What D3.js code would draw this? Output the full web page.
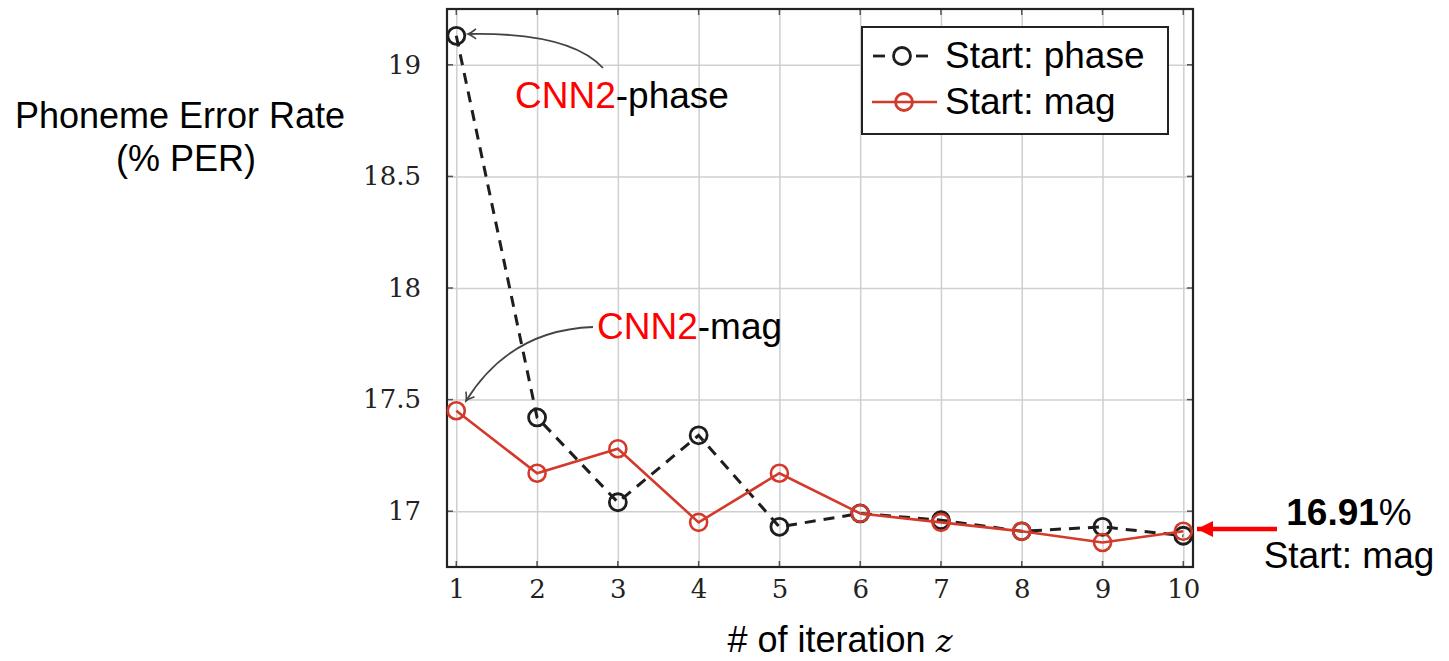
<!DOCTYPE html>
<html>
<head>
<meta charset="utf-8">
<script src="https://cdn.jsdelivr.net/npm/d3@7"></script>
<style>
  body { margin: 0; background: #fff; }
  .tick text { font-family: "DejaVu Serif", serif; }
</style>
</head>
<body>
<script>
var iterations = [1, 2, 3, 4, 5, 6, 7, 8, 9, 10];
var startPhase = [19.13, 17.42, 17.04, 17.34, 16.93, 16.99, 16.96, 16.91, 16.93, 16.89];
var startMag = [17.45, 17.17, 17.28, 16.95, 17.17, 16.99, 16.95, 16.91, 16.86, 16.91];
var yTicks = [17, 17.5, 18, 18.5, 19];
var yTickLabels = ["17", "17.5", "18", "18.5", "19"];

var W = 1449, H = 661;
var pLeft = 447, pRight = 1193, pTop = 9, pBottom = 567;
var sans = "Liberation Sans, Arial, sans-serif";
var fs = 37;

var svg = d3.select("body").append("svg")
  .attr("width", W).attr("height", H);

var x = d3.scaleLinear().domain([0.885, 10.12]).range([pLeft, pRight]);
var y = d3.scaleLinear().domain([16.75, 19.25]).range([pBottom, pTop]);

var defs = svg.append("defs");
defs.append("marker")
  .attr("id", "greyHead")
  .attr("viewBox", "-10 -6 12 12")
  .attr("refX", 0).attr("refY", 0)
  .attr("markerWidth", 12).attr("markerHeight", 12)
  .attr("markerUnits", "userSpaceOnUse")
  .attr("orient", "auto")
  .append("path")
  .attr("d", "M-8,-5 Q-3,-1 0,0 Q-3,1 -8,5")
  .attr("fill", "none").attr("stroke", "#444").attr("stroke-width", 1.6);
defs.append("marker")
  .attr("id", "redHead")
  .attr("viewBox", "-16 -9 17 18")
  .attr("refX", 0).attr("refY", 0)
  .attr("markerWidth", 17).attr("markerHeight", 18)
  .attr("markerUnits", "userSpaceOnUse")
  .attr("orient", "auto")
  .append("path")
  .attr("d", "M-16,-8 L0,0 L-16,8 Z")
  .attr("fill", "#ff0000");

// grid
svg.append("g")
  .attr("transform", "translate(0," + pBottom + ")")
  .call(d3.axisBottom(x).tickValues(iterations).tickSize(-(pBottom - pTop)).tickFormat(""))
  .call(function(g) {
    g.select(".domain").remove();
    g.selectAll("line").attr("stroke", "#cfcfcf").attr("stroke-width", 1.5);
  });
svg.append("g")
  .attr("transform", "translate(" + pLeft + ",0)")
  .call(d3.axisLeft(y).tickValues(yTicks).tickSize(-(pRight - pLeft)).tickFormat(""))
  .call(function(g) {
    g.select(".domain").remove();
    g.selectAll("line").attr("stroke", "#cfcfcf").attr("stroke-width", 1.5);
  });

// inner tick marks
var tk = svg.append("g").attr("stroke", "#555").attr("stroke-width", 1.5);
iterations.forEach(function(d) {
  tk.append("line").attr("x1", x(d)).attr("x2", x(d)).attr("y1", pBottom).attr("y2", pBottom - 6);
  tk.append("line").attr("x1", x(d)).attr("x2", x(d)).attr("y1", pTop).attr("y2", pTop + 6);
});
yTicks.forEach(function(d) {
  tk.append("line").attr("y1", y(d)).attr("y2", y(d)).attr("x1", pLeft).attr("x2", pLeft + 6);
  tk.append("line").attr("y1", y(d)).attr("y2", y(d)).attr("x1", pRight).attr("x2", pRight - 6);
});

// tick labels
svg.append("g")
  .attr("transform", "translate(0," + pBottom + ")")
  .call(d3.axisBottom(x).tickValues(iterations).tickSize(0).tickPadding(13))
  .call(function(g) {
    g.select(".domain").remove();
    g.selectAll("text").attr("font-size", 26).attr("fill", "#222");
  });
svg.append("g")
  .attr("transform", "translate(" + pLeft + ",0)")
  .call(d3.axisLeft(y).tickValues(yTicks).tickSize(0).tickPadding(26)
    .tickFormat(function(d, i) { return yTickLabels[i]; }))
  .call(function(g) {
    g.select(".domain").remove();
    g.selectAll("text").attr("font-size", 26).attr("fill", "#222");
  });

// frame
svg.append("rect")
  .attr("x", pLeft).attr("y", pTop)
  .attr("width", pRight - pLeft).attr("height", pBottom - pTop)
  .attr("fill", "none").attr("stroke", "#222").attr("stroke-width", 2.2);

var line = d3.line()
  .x(function(d, i) { return x(iterations[i]); })
  .y(function(d) { return y(d); });

var black = "#1e1e1e", red = "#d33a2c";

svg.append("path").datum(startPhase)
  .attr("d", line).attr("fill", "none")
  .attr("stroke", black).attr("stroke-width", 3).attr("stroke-dasharray", "11,8");
svg.append("g").selectAll("circle").data(startPhase).enter().append("circle")
  .attr("cx", function(d, i) { return x(iterations[i]); })
  .attr("cy", function(d) { return y(d); })
  .attr("r", 8.5).attr("fill", "none").attr("stroke", black).attr("stroke-width", 2.8);

svg.append("path").datum(startMag)
  .attr("d", line).attr("fill", "none")
  .attr("stroke", red).attr("stroke-width", 2.6);
svg.append("g").selectAll("circle").data(startMag).enter().append("circle")
  .attr("cx", function(d, i) { return x(iterations[i]); })
  .attr("cy", function(d) { return y(d); })
  .attr("r", 8.5).attr("fill", "none").attr("stroke", red).attr("stroke-width", 2.6);

// legend
var lg = svg.append("g");
lg.append("rect").attr("x", 862).attr("y", 27).attr("width", 306).attr("height", 107)
  .attr("fill", "#fff").attr("stroke", "#222").attr("stroke-width", 2);
var rows = [
  {label: "Start: phase", color: black, y: 56},
  {label: "Start: mag", color: red, y: 102}
];
rows.forEach(function(r, i) {
  if (i === 0) {
    lg.append("line").attr("x1", 873).attr("x2", 885).attr("y1", r.y).attr("y2", r.y)
      .attr("stroke", r.color).attr("stroke-width", 2.8);
    lg.append("line").attr("x1", 916).attr("x2", 928).attr("y1", r.y).attr("y2", r.y)
      .attr("stroke", r.color).attr("stroke-width", 2.8);
  } else {
    lg.append("line").attr("x1", 872).attr("x2", 937).attr("y1", r.y).attr("y2", r.y)
      .attr("stroke", r.color).attr("stroke-width", 2.6);
  }
  lg.append("circle").attr("cx", i === 0 ? 902 : 904).attr("cy", r.y).attr("r", 8.5)
    .attr("fill", "none").attr("stroke", r.color).attr("stroke-width", 2.8);
  lg.append("text").attr("x", 945).attr("y", r.y + 12)
    .attr("font-family", sans).attr("font-size", fs)
    .attr("fill", "#000").text(r.label);
});

// annotations
svg.append("path").attr("d", "M603,68 Q570,32 468,34")
  .attr("fill", "none").attr("stroke", "#444").attr("stroke-width", 1.8)
  .attr("marker-end", "url(#greyHead)");
svg.append("path").attr("d", "M593,327 Q510,330 466,401")
  .attr("fill", "none").attr("stroke", "#444").attr("stroke-width", 1.8)
  .attr("marker-end", "url(#greyHead)");

function cnnLabel(px, py, suffix) {
  var t = svg.append("text").attr("x", px).attr("y", py)
    .attr("font-family", sans).attr("font-size", fs);
  t.append("tspan").attr("fill", "#ff0000").text("CNN2");
  t.append("tspan").attr("fill", "#000").text(suffix);
}
cnnLabel(515, 108, "-phase");
cnnLabel(597, 339, "-mag");

svg.append("line").attr("x1", 1277).attr("x2", 1197).attr("y1", 529).attr("y2", 529)
  .attr("stroke", "#ff0000").attr("stroke-width", 4.5)
  .attr("marker-end", "url(#redHead)");

var rt = svg.append("text").attr("x", 1349).attr("y", 525).attr("text-anchor", "middle")
  .attr("font-family", sans).attr("font-size", fs);
rt.append("tspan").attr("font-weight", "bold").text("16.91");
rt.append("tspan").text("%");
svg.append("text").attr("x", 1349).attr("y", 568).attr("text-anchor", "middle")
  .attr("font-family", sans).attr("font-size", fs)
  .text("Start: mag");

// y title
svg.append("text").attr("x", 180).attr("y", 128).attr("text-anchor", "middle")
  .attr("font-family", sans).attr("font-size", 36)
  .text("Phoneme Error Rate");
svg.append("text").attr("x", 186).attr("y", 171).attr("text-anchor", "middle")
  .attr("font-family", sans).attr("font-size", 36)
  .text("(% PER)");

// x title
var xt = svg.append("text").attr("x", 840).attr("y", 652).attr("text-anchor", "middle")
  .attr("font-family", sans).attr("font-size", 36);
xt.append("tspan").text("# of iteration ");
xt.append("tspan").attr("font-family", "DejaVu Serif, serif").attr("font-style", "italic")
  .attr("font-size", 32).text("z");
</script>
</body>
</html>
